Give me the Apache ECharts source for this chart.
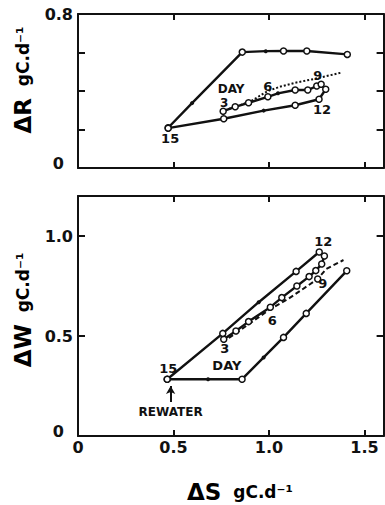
<!DOCTYPE html>
<html>
<head>
<meta charset="utf-8">
<script src="https://cdn.jsdelivr.net/npm/echarts@6/dist/echarts.min.js"></script>
<style>
  html, body { margin: 0; padding: 0; background: #fff; }
  #main { width: 385px; height: 505px; }
</style>
</head>
<body>
<div id="main"></div>
<script>
// ---- data ----
// top panel: dR vs dS
const rPostS = [0.472, 0.597, 0.86, 0.983, 1.076, 1.198, 1.41];
const rPostR = [0.209, 0.337, 0.602, 0.607, 0.608, 0.608, 0.59];
const rPostMark = ['o', 'a', 'o', 'a', 'o', 'o', 'o'];

const rDryS = [0.76, 0.823, 0.893, 0.994, 1.047, 1.137, 1.203, 1.25, 1.273, 1.297, 1.262, 1.137, 0.972, 0.763, 0.472];
const rDryR = [0.295, 0.318, 0.339, 0.37, 0.388, 0.405, 0.405, 0.426, 0.435, 0.409, 0.357, 0.326, 0.298, 0.256, 0.207];
const rDryMark = ['o', 'o', 'o', 'o', 'a', 'o', 'o', 'o', 'o', 'o', 'o', 'o', 'a', 'o', 'o'];

const rDotS = [0.77, 0.9, 0.994, 1.06, 1.137, 1.224, 1.377];
const rDotR = [0.30, 0.344, 0.40, 0.423, 0.443, 0.46, 0.495];
const rDotMark = ['h', '', '', '', '', '', ''];

// bottom panel: dW vs dS
const wPostS = [0.467, 0.681, 0.859, 0.972, 1.076, 1.195, 1.407];
const wPostW = [0.284, 0.284, 0.284, 0.393, 0.493, 0.613, 0.826];
const wPostMark = ['o', 'a', 'o', 'a', 'o', 'o', 'o'];

const wDryS = [0.763, 0.827, 0.893, 1.007, 1.067, 1.146, 1.21, 1.245, 1.276, 1.29, 1.263, 1.142, 0.946, 0.758, 0.467];
const wDryW = [0.484, 0.525, 0.572, 0.644, 0.692, 0.75, 0.797, 0.827, 0.86, 0.9, 0.92, 0.823, 0.669, 0.513, 0.284];
const wDryMark = ['o', 'o', 'o', 'o', 'o', 'o', 'o', 'o', 'o', 'o', 'o', 'o', 'a', 'o', 'o'];

const wDashS = [0.79, 1.0, 1.1, 1.255, 1.30, 1.39];
const wDashW = [0.49, 0.63, 0.685, 0.785, 0.835, 0.88];
const wDashMark = ['h', '', '', 'o', '', ''];

// tick labels
const sTicks = [0, 0.5, 1.0, 1.5];
const sTickLabels = ['0', '0.5', '1.0', '1.5'];
const rTicks = [0, 0.8];
const rTickLabels = ['{z|0}', '0.8'];
const wTicks = [0, 0.5, 1.0];
const wTickLabels = ['{z|0}', '0.5', '1.0'];

const rewaterS = 0.485; // rewatering marker on dS

// ---- styling ----
const INK = '#111';
const FONT = 'DejaVu Sans';

function pickLabel(ticks, labels) {
  return function (v) {
    for (let i = 0; i < ticks.length; i++) {
      if (Math.abs(v - ticks[i]) < 1e-6) return labels[i];
    }
    return '';
  };
}

function buildPoints(xs, ys, marks, labels) {
  return xs.map(function (x, i) {
    const item = { value: [x, ys[i]] };
    const m = marks ? marks[i] : '';
    if (m === 'o') {
      item.symbol = 'circle';
      item.symbolSize = 6;
      item.itemStyle = { color: '#fff', borderColor: INK, borderWidth: 1.5 };
    } else if (m === 'a') {
      item.symbol = 'circle';
      item.symbolSize = 4;
      item.itemStyle = { color: INK, borderColor: INK, borderWidth: 0 };
    } else if (m === 'h') {
      // hidden anchor, only carries a label
      item.symbol = 'circle';
      item.symbolSize = 2;
      item.itemStyle = { color: 'rgba(0,0,0,0)', borderWidth: 0 };
    } else {
      item.symbol = 'none';
    }
    if (labels && labels[i]) {
      const l = labels[i];
      item.label = {
        show: true,
        position: 'inside',
        offset: l.off,
        formatter: l.text,
        color: INK,
        fontFamily: FONT,
        fontWeight: 'bold',
        fontSize: l.size || 13,
        lineHeight: l.size || 13
      };
    }
    return item;
  });
}

function pathSeries(xi, yi, data, lineType, width) {
  return {
    type: 'line',
    xAxisIndex: xi,
    yAxisIndex: yi,
    data: data,
    showSymbol: true,
    symbol: 'circle',
    animation: false,
    silent: true,
    z: lineType === 'solid' ? 3 : 2,
    lineStyle: { color: INK, width: width, type: lineType },
    itemStyle: { color: INK },
    emphasis: { disabled: true }
  };
}

function axisX(gridIndex, pos, withLabels) {
  return {
    type: 'value', gridIndex: gridIndex, position: pos,
    min: 0, max: 1.6, interval: 0.5,
    axisLine: { show: true, onZero: false, lineStyle: { color: INK, width: 2 } },
    axisTick: { show: true, inside: true, length: 6, lineStyle: { color: INK, width: 2 } },
    splitLine: { show: false },
    axisLabel: {
      show: withLabels, margin: 3, color: INK, fontFamily: FONT,
      fontWeight: 'bold', fontSize: 16, showMaxLabel: false,
      formatter: pickLabel(sTicks, sTickLabels)
    }
  };
}

function axisY(gridIndex, pos, max, interval, ticks, labels) {
  return {
    type: 'value', gridIndex: gridIndex, position: pos,
    min: 0, max: max, interval: interval,
    axisLine: { show: true, onZero: false, lineStyle: { color: INK, width: 2 } },
    axisTick: { show: true, inside: true, length: 7, lineStyle: { color: INK, width: 2 } },
    splitLine: { show: false },
    axisLabel: {
      show: !!ticks, margin: 5, color: INK, fontFamily: FONT,
      fontWeight: 'bold', fontSize: 16,
      formatter: ticks ? pickLabel(ticks, labels) : '',
      rich: { z: { fontFamily: FONT, fontWeight: 'bold', fontSize: 16, color: INK, padding: [0, 9, 10, 0] } }
    }
  };
}

const rDryLabels = {};
rDryLabels[0] = { text: '3', off: [1, -8], size: 12 };
rDryLabels[3] = { text: '6', off: [0, -10] };
rDryLabels[7] = { text: '9', off: [1, -10] };
rDryLabels[10] = { text: '12', off: [3, 10] };
const rPostLabels = { 0: { text: '15', off: [2, 11] } };
const rDotLabels = { 0: { text: 'DAY', off: [6, -21], size: 12 } };

const wDryLabels = {};
wDryLabels[0] = { text: '3', off: [1, 9] };
wDryLabels[3] = { text: '6', off: [2, 13] };
wDryLabels[10] = { text: '12', off: [4, -11] };
const wPostLabels = { 0: { text: '15', off: [1, -11] } };
const wDashLabels = { 0: { text: 'DAY', off: [-2, 27] }, 3: { text: '9', off: [5, 4] } };

const titleRich = {
  a: { fontFamily: FONT, fontWeight: 'bold', fontSize: 23, color: INK },
  b: { fontFamily: FONT, fontWeight: 'bold', fontSize: 17, color: INK }
};

const wPost = pathSeries(2, 2, buildPoints(wPostS, wPostW, wPostMark, wPostLabels), 'solid', 2.4);
wPost.markLine = {
  silent: true,
  animation: false,
  symbol: ['none', 'arrow'],
  symbolSize: [7, 8],
  lineStyle: { color: INK, width: 2, type: 'solid' },
  label: {
    show: true, position: 'start', distance: 4, formatter: 'REWATER',
    color: INK, fontFamily: FONT, fontWeight: 'bold', fontSize: 12
  },
  data: [[{ coord: [rewaterS, 0.17] }, { coord: [rewaterS, 0.25] }]]
};

const option = {
  animation: false,
  backgroundColor: '#fff',
  grid: [
    { left: 78, top: 14, width: 305.6, height: 154 },
    { left: 78, top: 196, width: 305.6, height: 240 }
  ],
  xAxis: [
    axisX(0, 'bottom', false),
    axisX(0, 'top', false),
    axisX(1, 'bottom', true),
    axisX(1, 'top', false)
  ],
  yAxis: [
    axisY(0, 'left', 0.8, 0.2, rTicks, rTickLabels),
    axisY(0, 'right', 0.8, 0.2, null, null),
    axisY(1, 'left', 1.2, 0.5, wTicks, wTickLabels),
    axisY(1, 'right', 1.2, 0.5, null, null)
  ],
  series: [
    pathSeries(0, 0, buildPoints(rDotS, rDotR, rDotMark, rDotLabels), 'dotted', 2),
    pathSeries(0, 0, buildPoints(rPostS, rPostR, rPostMark, rPostLabels), 'solid', 2.4),
    pathSeries(0, 0, buildPoints(rDryS, rDryR, rDryMark, rDryLabels), 'solid', 2.4),
    pathSeries(2, 2, buildPoints(wDashS, wDashW, wDashMark, wDashLabels), [5, 3], 2),
    wPost,
    pathSeries(2, 2, buildPoints(wDryS, wDryW, wDryMark, wDryLabels), 'solid', 2.4)
  ],
  graphic: [
    {
      type: 'text', x: 23, y: 80, rotation: Math.PI / 2,
      style: { text: '{a|ΔR}{b|  gC.d⁻¹}', rich: titleRich, align: 'center', verticalAlign: 'middle' }
    },
    {
      type: 'text', x: 23, y: 310, rotation: Math.PI / 2,
      style: { text: '{a|ΔW}{b|  gC.d⁻¹}', rich: titleRich, align: 'center', verticalAlign: 'middle' }
    },
    {
      type: 'text', x: 240, y: 492,
      style: { text: '{a|ΔS}{b|  gC.d⁻¹}', rich: titleRich, align: 'center', verticalAlign: 'middle' }
    }
  ]
};

const chart = echarts.init(document.getElementById('main'), null, { renderer: 'svg' });
chart.setOption(option);
</script>
</body>
</html>
